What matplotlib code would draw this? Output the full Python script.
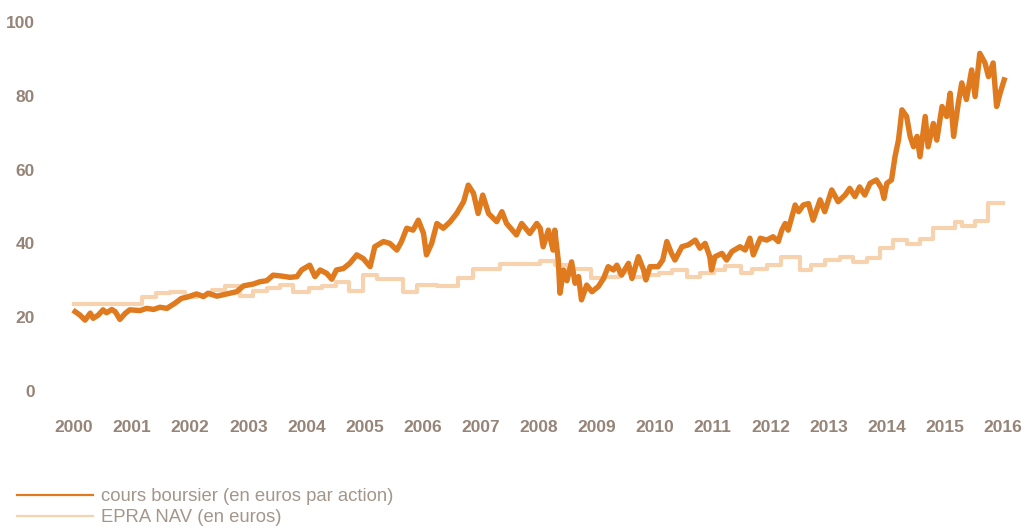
import matplotlib.pyplot as plt
from matplotlib.lines import Line2D

# cours boursier
price_year = [
    2000.02, 2000.10, 2000.19, 2000.28, 2000.33, 2000.42, 2000.50, 2000.56, 2000.65, 2000.71,
    2000.79, 2000.88, 2000.96, 2001.14, 2001.25, 2001.37, 2001.48, 2001.60, 2001.74, 2001.85,
    2001.94, 2002.11, 2002.23, 2002.31, 2002.46, 2002.63, 2002.80, 2002.92, 2003.09, 2003.20,
    2003.32, 2003.43, 2003.55, 2003.72, 2003.84, 2003.92, 2004.06, 2004.15, 2004.24, 2004.35,
    2004.44, 2004.52, 2004.64, 2004.75, 2004.87, 2004.98, 2005.10, 2005.18, 2005.33, 2005.44,
    2005.56, 2005.64, 2005.73, 2005.84, 2005.93, 2006.02, 2006.07, 2006.16, 2006.25, 2006.36,
    2006.48, 2006.59, 2006.71, 2006.79, 2006.88, 2006.96, 2007.04, 2007.14, 2007.28, 2007.37,
    2007.45, 2007.62, 2007.71, 2007.85, 2007.97, 2008.03, 2008.08, 2008.17, 2008.25, 2008.28,
    2008.34, 2008.37, 2008.43, 2008.49, 2008.57, 2008.63, 2008.69, 2008.74, 2008.83, 2008.92,
    2009.03, 2009.12, 2009.20, 2009.29, 2009.35, 2009.43, 2009.55, 2009.61, 2009.72, 2009.81,
    2009.85, 2009.92, 2010.06, 2010.14, 2010.21, 2010.29, 2010.35, 2010.47, 2010.58, 2010.70,
    2010.78, 2010.87, 2010.95, 2010.98, 2011.04, 2011.16, 2011.24, 2011.33, 2011.47, 2011.56,
    2011.64, 2011.70, 2011.82, 2011.93, 2012.04, 2012.13, 2012.19, 2012.25, 2012.30, 2012.42,
    2012.48, 2012.56, 2012.65, 2012.73, 2012.85, 2012.93, 2013.05, 2013.16, 2013.28, 2013.36,
    2013.45, 2013.53, 2013.62, 2013.71, 2013.82, 2013.91, 2013.95, 2014.00, 2014.08, 2014.14,
    2014.20, 2014.26, 2014.34, 2014.40, 2014.46, 2014.52, 2014.57, 2014.66, 2014.71, 2014.80,
    2014.86, 2014.95, 2015.03, 2015.09, 2015.15, 2015.23, 2015.29, 2015.37, 2015.46, 2015.52,
    2015.60, 2015.69, 2015.75, 2015.83, 2015.89, 2015.95, 2016.02,
]
price = [
    21.5, 20.6, 19.2, 21.1, 19.7, 20.6, 22.0, 21.2, 22.1, 21.5,
    19.4, 21.0, 22.0, 21.8, 22.4, 22.1, 22.7, 22.4, 23.8, 25.1,
    25.4, 26.3, 25.6, 26.5, 25.7, 26.3, 26.9, 28.5, 29.0, 29.6,
    29.9, 31.4, 31.2, 30.8, 31.0, 32.8, 34.1, 31.0, 32.8, 31.9,
    30.3, 32.8, 33.2, 34.6, 36.9, 35.9, 33.7, 39.1, 40.5, 40.0,
    38.2, 40.5, 44.1, 43.6, 46.3, 42.7, 36.9, 40.0, 45.4, 44.1,
    45.9, 48.1, 51.3, 55.8, 53.6, 48.1, 53.1, 48.1, 45.9, 48.6,
    45.4, 42.3, 45.4, 42.7, 45.4, 44.1, 39.1, 43.6, 38.2, 43.6,
    35.5, 26.5, 32.8, 29.9, 35.0, 29.2, 31.0, 24.7, 28.7, 26.9,
    28.3, 30.5, 33.7, 32.8, 34.1, 31.4, 34.6, 30.5, 36.4, 32.8,
    30.1, 33.7, 33.7, 35.5, 40.5, 37.3, 35.5, 39.1, 39.6, 40.9,
    38.7, 40.0, 36.4, 32.8, 36.4, 37.3, 35.5, 37.8, 39.1, 38.2,
    41.4, 36.9, 41.4, 40.9, 41.8, 40.5, 43.6, 45.4, 43.6, 50.4,
    48.6, 50.4, 50.8, 46.3, 51.8, 48.6, 54.5, 51.3, 53.1, 54.9,
    52.7, 55.3, 53.1, 56.3, 57.2, 54.9, 52.2, 56.3, 57.2, 63.5,
    68.0, 76.2, 74.4, 69.0, 66.2, 69.0, 63.5, 74.4, 66.2, 72.5,
    68.0, 77.1, 74.4, 80.7, 69.0, 78.0, 83.5, 79.0, 87.0, 79.8,
    91.5, 88.9, 85.2, 88.9, 77.1, 80.7, 84.3,
]

# EPRA NAV (paliers)
nav_year = [
    2000.00, 2001.17, 2001.42, 2001.65, 2001.91, 2002.11, 2002.37, 2002.60, 2002.86, 2003.09,
    2003.32, 2003.55, 2003.78, 2004.04, 2004.27, 2004.52, 2004.74, 2004.98, 2005.22, 2005.67,
    2005.90, 2006.25, 2006.62, 2006.88, 2007.34, 2008.03, 2008.28, 2008.51, 2008.90, 2009.15,
    2009.38, 2009.61, 2009.84, 2010.07, 2010.30, 2010.56, 2010.79, 2011.02, 2011.22, 2011.48,
    2011.68, 2011.94, 2012.17, 2012.50, 2012.70, 2012.93, 2013.19, 2013.42, 2013.65, 2013.88,
    2014.11, 2014.34, 2014.57, 2014.80, 2015.17, 2015.29, 2015.52, 2015.75, 2016.00,
]
nav = [
    23.6, 25.4, 26.5, 26.9, 25.4, 26.0, 27.4, 28.5, 25.7, 27.2,
    27.8, 28.7, 26.9, 27.8, 28.5, 29.5, 27.2, 31.4, 30.3, 26.9,
    28.7, 28.4, 30.5, 33.0, 34.3, 35.3, 34.1, 33.0, 30.5, 31.0,
    32.3, 31.0, 31.4, 32.0, 32.8, 31.0, 32.1, 32.8, 33.9, 31.9,
    33.0, 34.1, 36.4, 32.8, 34.1, 35.5, 36.4, 34.9, 36.1, 38.7,
    40.9, 39.8, 41.2, 44.1, 45.9, 44.8, 46.1, 50.9, 50.9,
]

years = list(range(2000, 2017))
yticks = [0, 20, 40, 60, 80, 100]

orange = "#E07A1F"
peach = "#F6D3AE"
grey = "#958477"

fig = plt.figure(figsize=(10.25, 5.28), dpi=100)
ax = fig.add_axes([74 / 1025, 1 - 391 / 528, 929 / 1025, 369 / 528])

ax.step(nav_year, nav, where="post", color=peach, lw=3.0, clip_on=False)
ax.plot(price_year, price, color=orange, lw=3.9, solid_joinstyle="round", clip_on=False)

ax.set_xlim(2000, 2016)
ax.set_ylim(0, 100)
ax.set_xticks(years)
ax.set_xticklabels([str(y) for y in years])
ax.set_yticks(yticks)
ax.set_yticklabels([str(v) for v in yticks])
for lab in ax.get_xticklabels() + ax.get_yticklabels():
    lab.set_family("Liberation Sans")
    lab.set_weight("bold")
    lab.set_fontsize(12.5)
    lab.set_color(grey)
ax.tick_params(axis="x", length=0, pad=21)
ax.tick_params(axis="y", length=0, pad=28)
for s in ax.spines.values():
    s.set_visible(False)

# legende en bas a gauche
handles = [Line2D([], [], color=orange, lw=1.6), Line2D([], [], color=peach, lw=1.6)]
labels = ["cours boursier (en euros par action)", "EPRA NAV (en euros)"]
fig.legend(handles, labels, loc="upper left", bbox_to_anchor=(17 / 1025, 1 - 488 / 528),
           frameon=False, borderpad=0, borderaxespad=0, handlelength=4.1,
           handletextpad=0.45, labelspacing=0.22,
           prop={"family": "Liberation Sans", "size": 13.3}, labelcolor="#A3968B")

fig.savefig("out.png", dpi=100)
